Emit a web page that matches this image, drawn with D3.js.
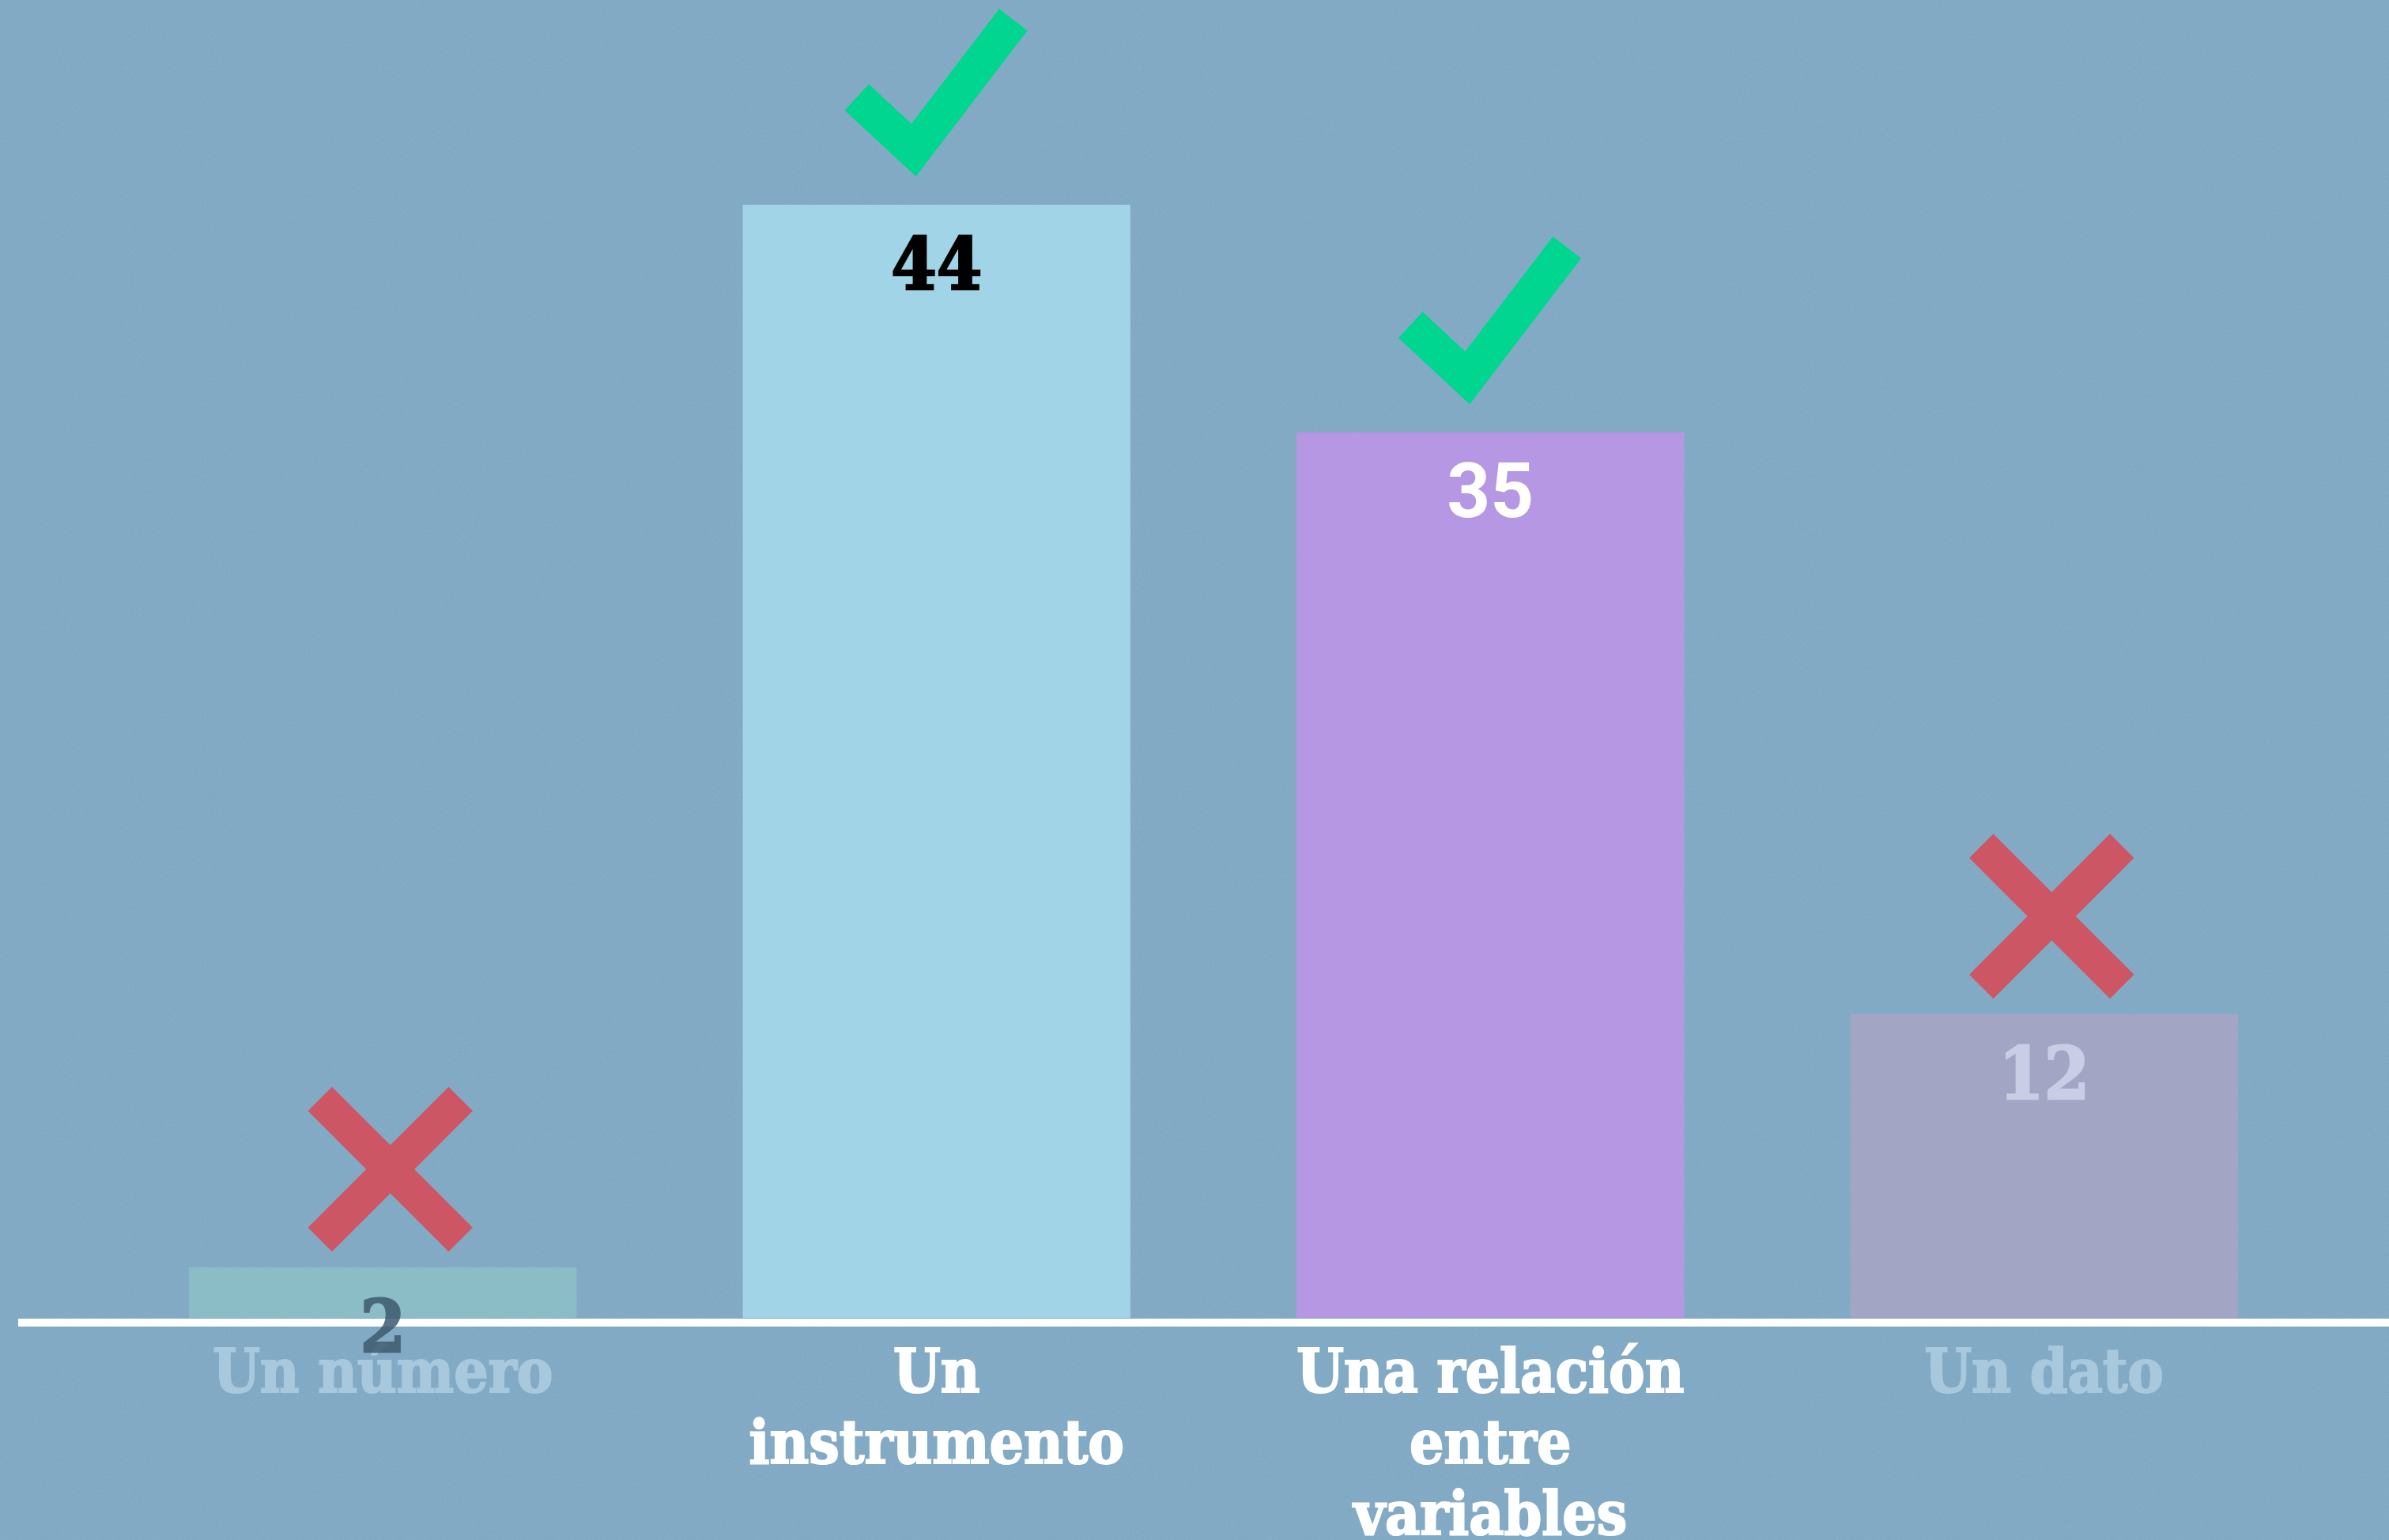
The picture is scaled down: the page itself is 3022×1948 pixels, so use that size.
<!DOCTYPE html>
<html>
<head>
<meta charset="utf-8">
<script src="https://cdn.jsdelivr.net/npm/d3@7"></script>
<style>
  html, body { margin: 0; padding: 0; background: #7fa8c3; }
  svg { display: block; }
</style>
</head>
<body>
<svg width="3022" height="1948"></svg>
<script>
// data
const categories = ["Un número", "Un instrumento", "Una relación entre variables", "Un dato"];
const values = [2, 44, 35, 12];
const verdicts = ["wrong", "right", "right", "wrong"];

// styles per bar
const barColors = ["#8bbdc6", "#a0d4e6", "#b597e3", "#a3a5c5"];
const valueColors = ["#3e5b6f", "#000000", "#ffffff", "#cacde6"];
const labelColors = ["#a8c8dd", "#ffffff", "#ffffff", "#a8c8dd"];
const slab = "'DejaVu Serif Condensed', 'DejaVu Serif', serif";
const sans = "Roboto, 'Noto Sans', sans-serif";
const valueFonts = [slab, slab, sans, slab];

const W = 3022, H = 1948;
const base = 1667;

const svg = d3.select('svg');

// background with a faint grain (grey noise, so it does not lighten the blue)
const defs = svg.append('defs');
const grain = defs.append('filter').attr('id', 'grain')
  .attr('x', 0).attr('y', 0).attr('width', '100%').attr('height', '100%');
grain.append('feTurbulence')
  .attr('type', 'fractalNoise').attr('baseFrequency', 0.8)
  .attr('numOctaves', 2).attr('seed', 3);
grain.append('feColorMatrix')
  .attr('type', 'matrix')
  .attr('values', '1 0 0 0 0  1 0 0 0 0  1 0 0 0 0  0 0 0 0 0.07');
svg.append('rect').attr('width', W).attr('height', H).attr('fill', '#7fa9c5');
svg.append('rect').attr('width', W).attr('height', H).attr('filter', 'url(#grain)');

const x = d3.scaleBand()
    .domain(categories)
    .range([134, 2936])
    .paddingInner(0.3)
    .paddingOuter(0.15);
const y = d3.scaleLinear()
    .domain([0, d3.max(values)])
    .range([base, 259]);

const rows = categories.map((c, i) => ({c, v: values[i], ok: verdicts[i], i}));

// bars
svg.append('g').selectAll('rect')
  .data(rows)
  .join('rect')
    .attr('x', d => x(d.c))
    .attr('y', d => y(d.v))
    .attr('width', x.bandwidth())
    .attr('height', d => y(0) - y(d.v))
    .attr('fill', d => barColors[d.i]);

// baseline
svg.append('line')
  .attr('x1', 23).attr('x2', W)
  .attr('y1', base + 6).attr('y2', base + 6)
  .attr('stroke', '#ffffff')
  .attr('stroke-width', 10);

// category labels via axis
const axis = svg.append('g')
  .attr('transform', `translate(0,${base})`)
  .call(d3.axisBottom(x).tickSize(0).tickPadding(0));
axis.select('.domain').remove();

function wrap(text, width) {
  text.each(function() {
    const t = d3.select(this);
    const words = t.text().split(/\s+/);
    t.text(null);
    let line = [];
    let lineNo = 0;
    let tspan = t.append('tspan').attr('x', 0).attr('y', 94);
    for (const w of words) {
      line.push(w);
      tspan.text(line.join(' '));
      if (tspan.node().getComputedTextLength() > width && line.length > 1) {
        line.pop();
        tspan.text(line.join(' '));
        line = [w];
        lineNo++;
        tspan = t.append('tspan').attr('x', 0).attr('y', 94 + lineNo * 90).text(w);
      }
    }
  });
}

axis.selectAll('.tick text')
  .attr('dy', null)
  .attr('font-family', slab)
  .attr('font-weight', 'bold')
  .attr('font-size', 76)
  .attr('fill', (d, i) => labelColors[i])
  .attr('stroke', (d, i) => labelColors[i])
  .attr('stroke-width', 2)
  .call(wrap, x.bandwidth() + 20);

// check and cross marks
const line = d3.line();
const checkPts = [[-101, -136], [-29, -69], [97, -234]];
const marks = svg.append('g');
rows.filter(d => d.ok === 'right').forEach(d => {
  const cx = x(d.c) + x.bandwidth() / 2, top = y(d.v);
  marks.append('path')
    .attr('d', line(checkPts.map(p => [cx + p[0], top + p[1]])))
    .attr('fill', 'none')
    .attr('stroke', '#00d68f')
    .attr('stroke-width', 45)
    .attr('stroke-linejoin', 'miter')
    .attr('stroke-linecap', 'butt');
});
rows.filter(d => d.ok === 'wrong').forEach(d => {
  const cx = x(d.c) + x.bandwidth() / 2 + 9.5, cy = y(d.v) - 124, r = 89;
  [[-1, -1, 1, 1], [1, -1, -1, 1]].forEach(s => {
    marks.append('path')
      .attr('d', line([[cx + s[0] * r, cy + s[1] * r], [cx + s[2] * r, cy + s[3] * r]]))
      .attr('stroke', '#cd5664')
      .attr('stroke-width', 43)
      .attr('stroke-linecap', 'butt');
  });
});

// value labels
svg.append('g').selectAll('text')
  .data(rows)
  .join('text')
    .attr('x', d => x(d.c) + x.bandwidth() / 2)
    .attr('y', d => y(d.v) + 107)
    .attr('text-anchor', 'middle')
    .attr('font-family', d => valueFonts[d.i])
    .attr('font-weight', 'bold')
    .attr('font-size', d => valueFonts[d.i] === sans ? 96 : 92)
    .attr('fill', d => valueColors[d.i])
    .attr('stroke', d => valueFonts[d.i] === sans ? 'none' : valueColors[d.i])
    .attr('stroke-width', 2.5)
    .attr('opacity', d => d.i === 0 ? 0.85 : 1)
    .text(d => d.v);
</script>
</body>
</html>
